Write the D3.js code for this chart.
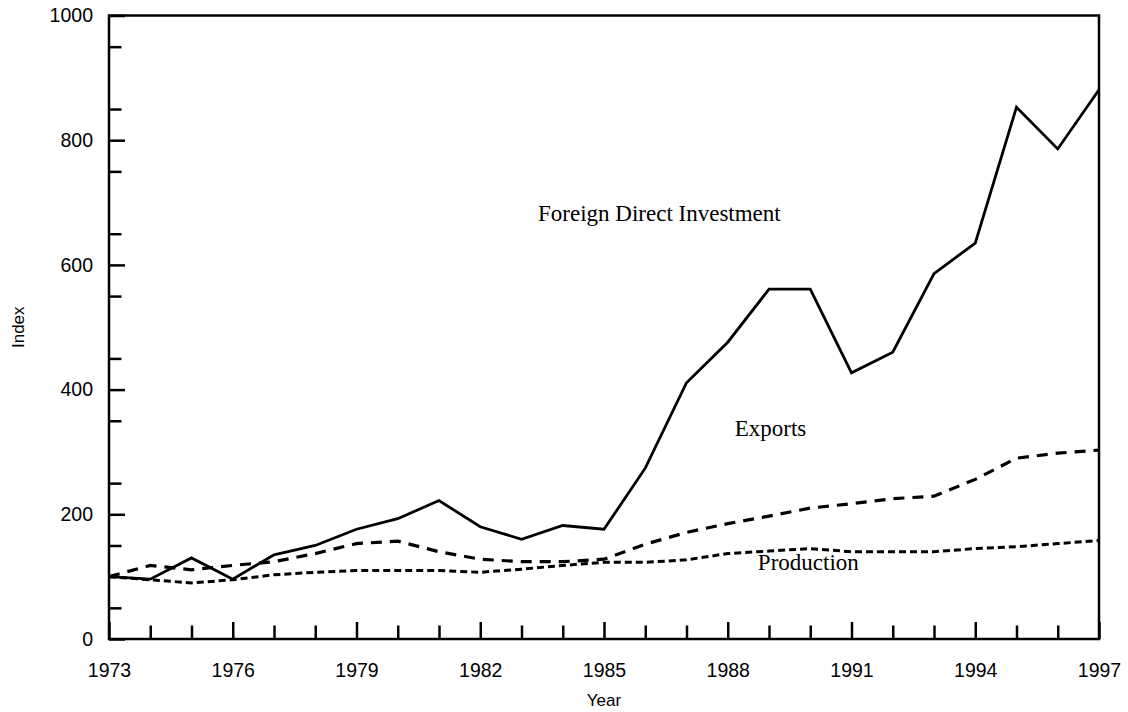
<!DOCTYPE html>
<html><head><meta charset="utf-8">
<script src="https://cdn.jsdelivr.net/npm/d3@7"></script>
<style>
html,body{margin:0;padding:0;background:#fff;}
svg{display:block;}
</style></head>
<body><svg id="chart" width="1128" height="712"></svg>
<script>
const years = [1973,1974,1975,1976,1977,1978,1979,1980,1981,1982,1983,1984,1985,1986,1987,1988,1989,1990,1991,1992,1993,1994,1995,1996,1997];
const fdi = [100,96,130,96,135,150,176,193,222,180,160,182,176,274,411,476,561,561,427,460,586,635,853,786,881];
const exportsSeries = [100,118,111,118,124,137,153,157,140,128,124,124,128,152,171,185,197,210,217,225,229,256,290,298,303];
const production = [100,95,90,95,103,107,110,110,110,107,112,118,123,123,127,137,141,145,140,140,140,145,148,153,158];
const xTickLabels = [1973,1976,1979,1982,1985,1988,1991,1994,1997];
const yTickLabels = [0,200,400,600,800,1000];
const yMinorTicks = [50,150,250,350,450,550,650,750,850,950];
const seriesLabels = [
  {text:"Foreign Direct Investment", year:1983.4, value:670},
  {text:"Exports", year:1988.17, value:326},
  {text:"Production", year:1988.73, value:110}
];

const svg = d3.select("#chart");
const m = {left:109, right:29, top:15.5, bottom:73};
const W = 1128, H = 712;
const x = d3.scaleLinear().domain([1973,1997]).range([m.left, W-m.right]);
const y = d3.scaleLinear().domain([0,1000]).range([H-m.bottom, m.top]);

const tickFont = "'Liberation Sans', Arial, Helvetica, sans-serif";

const minorYears = years.filter(v => !xTickLabels.includes(v));
svg.append("g").attr("transform",`translate(0,${y(0)})`)
  .call(d3.axisBottom(x).tickValues(minorYears).tickSize(-13.5).tickFormat(""))
  .call(g=>g.select(".domain").remove())
  .call(g=>g.selectAll("line").attr("stroke","#000").attr("stroke-width",2.5));
svg.append("g").attr("transform",`translate(0,${y(0)})`)
  .call(d3.axisBottom(x).tickValues(xTickLabels).tickSize(-17).tickPadding(24).tickFormat(d3.format("d")))
  .call(g=>g.select(".domain").remove())
  .call(g=>g.selectAll("line").attr("stroke","#000").attr("stroke-width",2.5))
  .call(g=>g.selectAll("text").attr("font-family",tickFont).attr("font-size",19.5).attr("fill","#000"));
svg.append("g").attr("transform",`translate(${x(1973)},0)`)
  .call(d3.axisLeft(y).tickValues(yMinorTicks).tickSize(-12.5).tickFormat(""))
  .call(g=>g.select(".domain").remove())
  .call(g=>g.selectAll("line").attr("stroke","#000").attr("stroke-width",2.5));
svg.append("g").attr("transform",`translate(${x(1973)},0)`)
  .call(d3.axisLeft(y).tickValues(yTickLabels).tickSize(-16).tickPadding(16).tickFormat(d3.format("d")))
  .call(g=>g.select(".domain").remove())
  .call(g=>g.selectAll("line").attr("stroke","#000").attr("stroke-width",2.5))
  .call(g=>g.selectAll("text").attr("font-family",tickFont).attr("font-size",19.5).attr("fill","#000"));

svg.append("rect")
  .attr("x",x(1973)).attr("y",y(1000))
  .attr("width",x(1997)-x(1973)).attr("height",y(0)-y(1000))
  .attr("fill","none").attr("stroke","#000").attr("stroke-width",2.5);

const line = d3.line().x((d,i)=>x(years[i])).y(d=>y(d));

svg.append("path").datum(production).attr("d",line)
  .attr("fill","none").attr("stroke","#000").attr("stroke-width",3)
  .attr("stroke-dasharray","7,4");
svg.append("path").datum(exportsSeries).attr("d",line)
  .attr("fill","none").attr("stroke","#000").attr("stroke-width",3.2)
  .attr("stroke-dasharray","11,8");
svg.append("path").datum(fdi).attr("d",line)
  .attr("fill","none").attr("stroke","#000").attr("stroke-width",2.8)
  .attr("stroke-linejoin","miter");

svg.selectAll("text.slabel").data(seriesLabels).enter().append("text")
  .attr("class","slabel")
  .attr("x",d=>x(d.year)).attr("y",d=>y(d.value))
  .attr("font-family","'Liberation Serif', 'Times New Roman', Times, serif")
  .attr("font-size",23).attr("fill","#000")
  .text(d=>d.text);

svg.append("text").attr("x",(x(1973)+x(1997))/2).attr("y",706)
  .attr("text-anchor","middle").attr("font-family",tickFont).attr("font-size",17)
  .text("Year");
svg.append("text").attr("transform",`translate(24,${(y(0)+y(1000))/2}) rotate(-90)`)
  .attr("text-anchor","middle").attr("font-family",tickFont).attr("font-size",17)
  .text("Index");
</script></body></html>
